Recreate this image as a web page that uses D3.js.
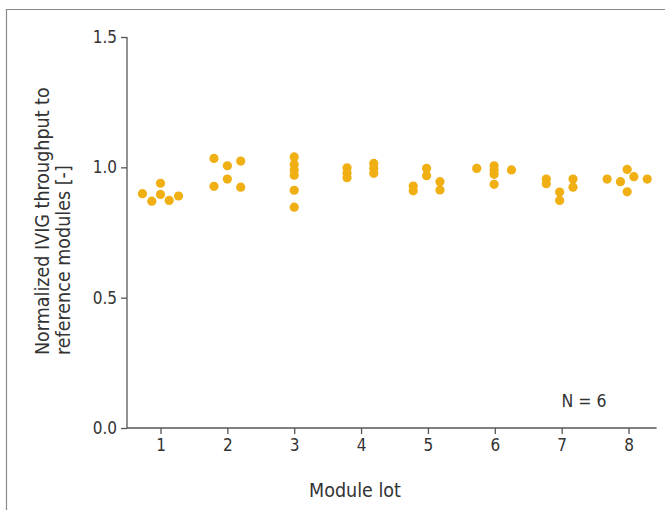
<!DOCTYPE html>
<html><head><meta charset="utf-8">
<script src="https://cdn.jsdelivr.net/npm/d3@7"></script>
<style>
html,body{margin:0;padding:0;background:#fff;}
svg{display:block;}
text{font-family:"DejaVu Sans Condensed","DejaVu Sans",sans-serif;fill:#333;}
</style></head>
<body>
<svg id="chart" width="665" height="510"></svg>
<script>
// Data
const lots = [1, 2, 3, 4, 5, 6, 7, 8];
const yTicks = [0.0, 0.5, 1.0, 1.5];
// each lot: [jitter (lot units), normalized throughput]
const lot1 = [[-0.27,0.899],[-0.13,0.870],[0,0.939],[0,0.896],[0.13,0.873],[0.27,0.890]];
const lot2 = [[-0.2,1.034],[-0.2,0.927],[0,1.006],[0,0.955],[0.2,1.024],[0.2,0.924]];
const lot3 = [[0,1.040],[0,1.011],[0,0.990],[0,0.970],[0,0.912],[0,0.847]];
const lot4 = [[-0.21,0.998],[-0.21,0.978],[-0.21,0.960],[0.19,1.015],[0.19,0.996],[0.19,0.977]];
const lot5 = [[-0.22,0.928],[-0.22,0.910],[-0.02,0.996],[-0.02,0.968],[0.18,0.945],[0.18,0.913]];
const lot6 = [[-0.27,0.996],[-0.01,1.006],[-0.01,0.990],[-0.01,0.973],[-0.01,0.935],[0.25,0.990]];
const lot7 = [[-0.23,0.955],[-0.23,0.937],[-0.03,0.905],[-0.03,0.873],[0.17,0.955],[0.17,0.924]];
const lot8 = [[-0.32,0.955],[-0.12,0.945],[-0.02,0.992],[-0.02,0.906],[0.08,0.964],[0.28,0.955]];
const lotValues = [lot1, lot2, lot3, lot4, lot5, lot6, lot7, lot8];
const xLabel = "Module lot";
const yLabelLines = ["Normalized IVIG throughput to", "reference modules [-]"];
const note = "N = 6";

const FONT = '"DejaVu Sans Condensed","DejaVu Sans",sans-serif';
const svg = d3.select("#chart");
// frame
svg.append("path").attr("d","M6.5,510 V9.5 H665").attr("fill","none").attr("stroke","#8a8a8a").attr("stroke-width",1.2);

const x = d3.scaleLinear().domain([1, 8]).range([160.5, 628.5]);
const y = d3.scaleLinear().domain([0, 1.5]).range([428, 37]);
const axisColor = "#555";

// y axis
const yAxis = svg.append("g").attr("transform","translate(127,0)")
  .call(d3.axisLeft(y).tickValues(yTicks).tickFormat(d3.format(".1f")).tickSize(6).tickPadding(4));
yAxis.select(".domain").attr("d", `M0,${y(1.5)}V${y(0)}`).attr("stroke",axisColor).attr("stroke-width",1.3);
yAxis.selectAll(".tick line").attr("stroke",axisColor).attr("stroke-width",1.3);
yAxis.selectAll(".tick text").attr("font-size",17).attr("fill","#333").style("font-family",FONT);

// x axis
const xAxis = svg.append("g").attr("transform",`translate(0,${y(0)})`)
  .call(d3.axisBottom(x).tickValues(lots).tickFormat(d3.format("d")).tickSize(6).tickPadding(5));
xAxis.select(".domain").attr("d", `M127,0H${x(8.42)}`).attr("stroke",axisColor).attr("stroke-width",1.3);
xAxis.selectAll(".tick line").attr("stroke",axisColor).attr("stroke-width",1.3);
xAxis.selectAll(".tick text").attr("font-size",17).attr("fill","#333").style("font-family",FONT);

// points
const pts = [];
lotValues.forEach((arr, i) => arr.forEach(([dx, v]) => pts.push({lot: lots[i] + dx, v})));
svg.append("g").selectAll("circle").data(pts).join("circle")
  .attr("cx", d => x(d.lot)).attr("cy", d => y(d.v)).attr("r", 4.6)
  .attr("fill", "#f0af12");

// labels
svg.append("text").attr("x", 355).attr("y", 497).attr("text-anchor","middle").attr("font-size",19.5).text(xLabel);
const yl = svg.append("text").attr("transform","translate(0,355) rotate(-90)").attr("font-size",19.5);
yl.append("tspan").attr("x",0).attr("y",49).text(yLabelLines[0]);
yl.append("tspan").attr("x",0).attr("y",70).text(yLabelLines[1]);
svg.append("text").attr("x", 584).attr("y", 407).attr("text-anchor","middle").attr("font-size",17.5).text(note);
</script>
</body></html>
